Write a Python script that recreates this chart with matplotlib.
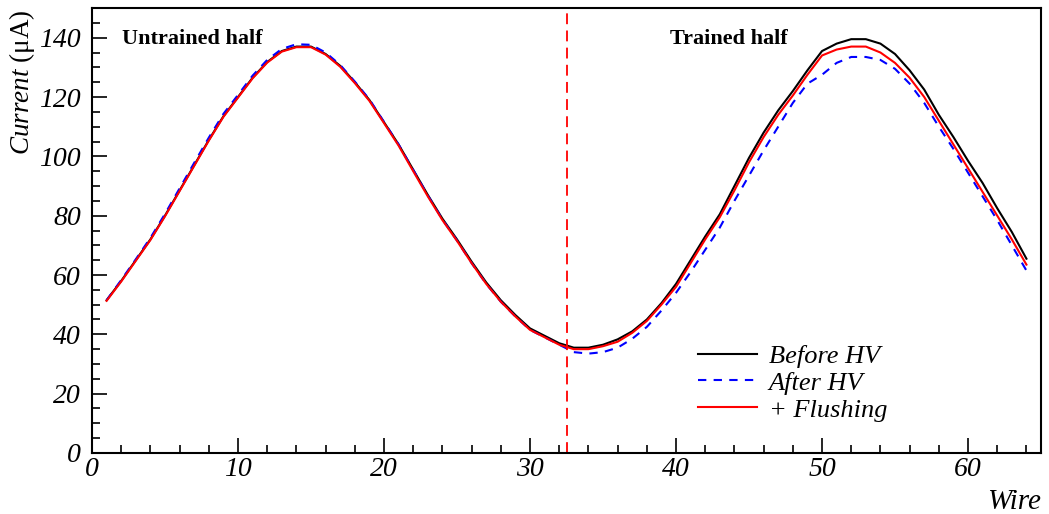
import matplotlib
matplotlib.use("Agg")
import matplotlib.pyplot as plt
import numpy as np
from matplotlib.ticker import MultipleLocator

plt.rcParams["font.family"] = ["Liberation Serif", "DejaVu Serif"]
plt.rcParams["mathtext.fontset"] = "custom"
plt.rcParams["mathtext.rm"] = "Liberation Serif"
plt.rcParams["mathtext.it"] = "Liberation Serif:italic"

wire = np.arange(1, 65)

before_hv = [
    51.5, 58.0, 65.0, 72.0, 80.0, 88.5, 97.0, 105.5, 113.5, 120.0,
    126.5, 131.8, 135.5, 137.0, 137.0, 134.5, 130.5, 125.0, 119.0, 111.5,
    104.0, 95.5, 87.0, 79.0, 72.0, 64.5, 57.5, 51.5, 46.5, 42.0,
    39.5, 37.0, 35.5, 35.5, 36.5, 38.3, 41.0, 45.0, 50.5, 57.0,
    65.0, 73.0, 80.5, 90.0, 99.5, 108.0, 115.5, 122.0, 129.0, 135.5,
    138.0, 139.5, 139.5, 138.0, 134.5, 129.0, 122.5, 114.0, 106.5, 98.5,
    91.0, 82.5, 74.5, 65.5,
]
after_hv = [
    51.5, 58.3, 65.3, 72.5, 80.6, 89.2, 97.8, 106.3, 114.3, 120.7,
    127.2, 132.5, 136.2, 137.8, 137.6, 135.0, 130.8, 125.2, 119.2, 111.6,
    104.0, 95.4, 86.8, 78.7, 71.6, 64.0, 57.0, 51.0, 46.0, 41.5,
    39.0, 36.5, 34.0, 33.5, 34.0, 35.5, 38.5, 42.5, 48.0, 54.0,
    61.0, 68.5, 76.0, 85.0, 93.5, 102.0, 110.0, 118.0, 124.5, 127.5,
    131.5, 133.5, 133.5, 132.5, 129.5, 124.5, 118.0, 110.0, 102.5, 94.5,
    86.5, 78.5, 70.0, 61.5,
]
flushing = [
    51.3, 57.8, 64.8, 71.8, 79.8, 88.3, 96.8, 105.3, 113.3, 119.8,
    126.3, 131.6, 135.3, 136.8, 136.8, 134.3, 130.2, 124.7, 118.7, 111.2,
    103.6, 95.0, 86.5, 78.5, 71.5, 64.0, 57.0, 51.0, 46.0, 41.5,
    39.0, 36.5, 35.0, 35.0, 36.0, 37.5, 40.5, 44.5, 50.0, 56.0,
    64.0, 72.0, 79.5, 88.5, 98.0, 106.5, 114.0, 120.5, 127.5, 134.0,
    136.0, 137.0, 137.0, 135.0, 131.5, 126.5, 120.0, 112.0, 104.0, 96.0,
    88.0, 80.0, 72.0, 63.5,
]
split_wire = 32.5

fig = plt.figure(figsize=(10.49, 5.14), dpi=100)
ax = fig.add_axes([0.0877, 0.1187, 0.9047, 0.8657])

ax.plot(wire, before_hv, color="black", lw=1.5, label="Before HV")
ax.plot(wire, after_hv, color="#0000ff", lw=1.5, ls=(0, (4, 3.5)), label="After HV")
ax.plot(wire, flushing, color="#ff0000", lw=1.5, label="+ Flushing")
ax.axvline(split_wire, color="#ff0000", lw=1.3, ls=(0, (6, 3.5)))

ax.set_xlim(0, 65)
ax.set_ylim(0, 150)
ax.xaxis.set_major_locator(MultipleLocator(10))
ax.xaxis.set_minor_locator(MultipleLocator(2))
ax.yaxis.set_major_locator(MultipleLocator(20))
ax.yaxis.set_minor_locator(MultipleLocator(5))
ax.tick_params(which="both", direction="in", width=1.2, labelsize=20)
ax.tick_params(which="major", length=11)
ax.tick_params(which="minor", length=5.5)
ax.tick_params(axis="x", pad=3)
ax.tick_params(axis="y", pad=8)
for lab in ax.get_xticklabels() + ax.get_yticklabels():
    lab.set_fontstyle("italic")
for sp in ax.spines.values():
    sp.set_linewidth(1.5)

ax.set_ylabel(r"$\mathit{Current}$ (μA)", fontsize=19.5)
ax.yaxis.set_label_coords(-0.058, 0.834)
ax.set_xlabel("Wire", fontsize=21, fontstyle="italic")
ax.xaxis.set_label_coords(1.0, -0.08)
ax.xaxis.label.set_horizontalalignment("right")

ax.text(2.05, 139.5, "Untrained half", fontsize=16, fontweight="bold", va="center")
ax.text(39.6, 139.5, "Trained half", fontsize=16, fontweight="bold", va="center")

leg = ax.legend(loc="upper left", bbox_to_anchor=(0.627, 0.268), frameon=False,
                fontsize=19, handlelength=2.25, handletextpad=0.45,
                labelspacing=0.13, borderaxespad=0)
for t in leg.get_texts():
    t.set_fontstyle("italic")

fig.savefig("out.png", dpi=100)
